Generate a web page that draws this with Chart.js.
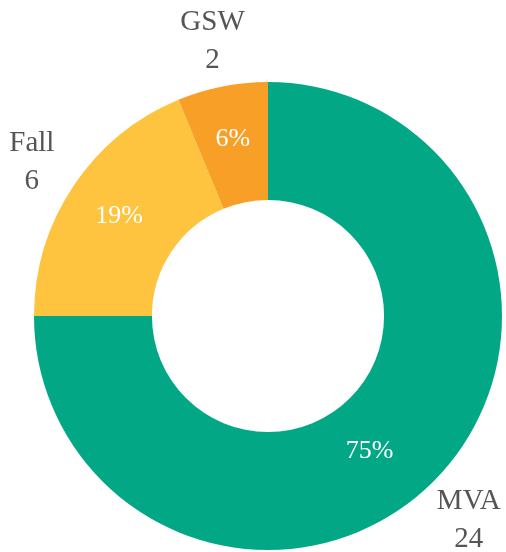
<!DOCTYPE html>
<html>
<head>
<meta charset="utf-8">
<script src="https://cdn.jsdelivr.net/npm/chart.js@4"></script>
<style>
html,body{margin:0;padding:0;background:#fff;}
canvas{display:block;}
</style>
</head>
<body>
<canvas id="c" width="506" height="552"></canvas>
<script>
const categories = ["MVA", "Fall", "GSW"];
const counts = [24, 6, 2];
const percentLabels = ["75%", "19%", "6%"];
const colors = ["#02a886", "#fec440", "#f89f27"];
// label placement styling (fraction along arc, radial offset from ring middle)
const pctAngleFrac = [0.53, 0.5, 0.5];
const pctRadialOffset = [-6, 4, 5];

const labelPlugin = {
  id: 'labels',
  afterDatasetsDraw(chart) {
    const ctx = chart.ctx;
    const meta = chart.getDatasetMeta(0);
    meta.data.forEach((arc, i) => {
      const p = arc.getProps(['x','y','startAngle','endAngle','innerRadius','outerRadius'], true);
      const a = p.startAngle + (p.endAngle - p.startAngle) * pctAngleFrac[i];
      const rm = (p.innerRadius + p.outerRadius) / 2 + pctRadialOffset[i];
      ctx.save();
      ctx.fillStyle = '#ffffff';
      ctx.font = '26px "Liberation Serif"';
      ctx.textAlign = 'center';
      ctx.textBaseline = 'middle';
      ctx.fillText(percentLabels[i], p.x + Math.cos(a) * rm, p.y + Math.sin(a) * rm);
      const am = (p.startAngle + p.endAngle) / 2;
      const ro = p.outerRadius + 50;
      const cx = p.x + Math.cos(am) * ro;
      const cy = p.y + Math.sin(am) * ro;
      ctx.fillStyle = '#555555';
      ctx.font = '29px "Liberation Serif"';
      ctx.fillText(categories[i], cx, cy - 15);
      ctx.fillText(String(counts[i]), cx, cy + 23);
      ctx.restore();
    });
  }
};

new Chart(document.getElementById('c'), {
  type: 'doughnut',
  data: {
    labels: categories,
    datasets: [{
      data: counts,
      backgroundColor: colors,
      borderWidth: 0
    }]
  },
  options: {
    responsive: false,
    animation: false,
    cutout: '49.6%',
    layout: { padding: { left: 34, right: 4, top: 82, bottom: 2 } },
    plugins: { legend: { display: false }, tooltip: { enabled: false } }
  },
  plugins: [labelPlugin]
});
</script>
</body>
</html>
